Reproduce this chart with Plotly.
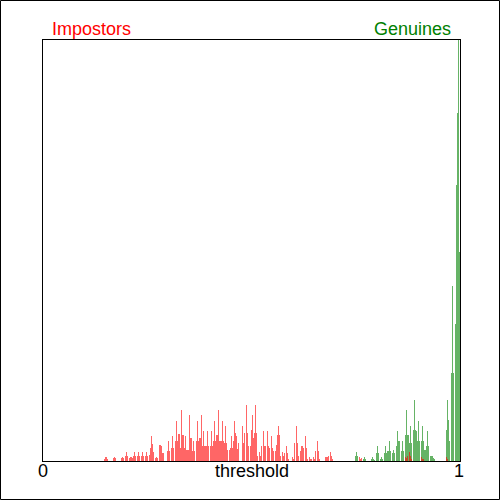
import plotly.graph_objects as go

# Histogram on a fine grid of 417 bins over threshold [0, 1]
N_BINS = 417

# Impostor scores: (bin index, count) for non-empty bins
imp_bins = [61, 62, 63, 64, 70, 71, 72, 78, 79, 80, 82, 83, 84, 86, 87, 88, 89,
            90, 91, 92, 94, 95, 96, 98, 99, 100, 102, 103, 104, 106, 107, 108, 109, 110,
            112, 113, 114, 116, 117, 118, 119, 120, 124, 125, 126, 128, 129, 130,
            132, 133, 134, 135, 136, 137, 138, 139, 140, 141, 142, 143, 144, 145, 146, 147, 148,
            149, 150, 151, 153, 154, 155, 156, 157, 158, 159, 160, 161, 162, 163, 164, 165,
            167, 168, 169, 170, 171, 172, 173, 174, 175, 176, 177, 178, 179, 180, 181,
            182, 183, 184, 186, 187, 188, 189, 190, 191, 192, 193, 194, 195, 199, 200, 201,
            203, 204, 205, 207, 208, 209, 210, 211, 212, 213, 214, 216, 217, 218,
            220, 221, 222, 224, 225, 226, 228, 229, 230, 232, 233, 234, 235, 236, 237,
            239, 240, 241, 243, 244, 245, 249, 250, 251, 253, 254, 255, 257, 258, 259, 260,
            262, 263, 264, 266, 267, 268, 270, 271, 272, 274, 275, 276,
            282, 283, 284, 285, 287, 288, 289, 316, 317, 318, 362, 363, 364,
            366, 367, 368, 378, 379, 380, 403, 404, 405]
imp_counts = [2, 4, 4, 2, 3, 4, 3, 3, 4, 3, 5, 9, 5, 3, 4, 4, 3,
              5, 9, 5, 5, 9, 5, 5, 9, 5, 5, 9, 5, 6, 13, 25, 17, 9,
              3, 4, 3, 16, 16, 15, 8, 8, 10, 20, 10, 13, 25, 13,
              20, 40, 20, 27, 27, 13, 51, 26, 26, 13, 25, 11, 11, 11, 46, 23, 23,
              10, 20, 10, 20, 40, 20, 23, 23, 46, 15, 30, 15, 15, 15, 30, 15,
              15, 30, 15, 20, 40, 20, 26, 26, 51, 20, 20, 20, 40, 20, 18,
              35, 18, 11, 11, 13, 25, 13, 20, 40, 28, 25, 12, 18, 35, 18,
              28, 56, 28, 15, 15, 31, 46, 23, 28, 56, 28, 5, 9, 5,
              15, 30, 15, 15, 30, 15, 13, 25, 13, 10, 10, 16, 26, 35, 26,
              5, 9, 5, 8, 15, 8, 2, 4, 2, 18, 35, 18, 5, 10, 15, 15,
              13, 25, 13, 2, 4, 2, 2, 4, 2, 10, 20, 10,
              2, 4, 4, 4, 5, 9, 5, 2, 4, 2,
              3, 4, 3, 5, 9, 5, 2, 4, 2, 2, 4, 2]

# Genuine scores: (bin index, count) for non-empty bins
gen_bins = [312, 313, 314, 320, 321, 322, 328, 329, 330, 331, 333, 334, 335,
            337, 338, 339, 341, 342, 343, 344, 345, 346, 347, 349, 350, 351,
            353, 354, 355, 356, 358, 359, 360, 362, 363, 364, 365, 366, 367, 368,
            370, 371, 372, 373, 374, 375, 376, 378, 379, 380, 381, 382, 383, 384, 385,
            387, 388, 389, 390, 391, 403, 404, 405, 406, 408, 409, 410,
            412, 413, 414, 415, 416]
gen_counts = [5, 9, 5, 2, 4, 2, 2, 4, 2, 1, 8, 15, 8,
              2, 4, 2, 8, 15, 8, 10, 10, 20, 10, 8, 11, 8,
              15, 30, 20, 20, 10, 20, 10, 26, 51, 26, 26, 18, 35, 18,
              31, 61, 31, 30, 20, 40, 20, 20, 35, 20, 11, 11, 15, 30, 15,
              5, 5, 5, 3, 2, 31, 61, 41, 20, 88, 175, 88,
              137, 275, 347, 420, 209]

bin_w = 1.0 / N_BINS
imp_x = [(b + 0.5) * bin_w for b in imp_bins]
gen_x = [(b + 0.5) * bin_w for b in gen_bins]

fig = go.Figure()
fig.add_trace(go.Bar(x=gen_x, y=gen_counts, width=bin_w,
                     marker=dict(color="rgba(0,128,0,0.6)", line=dict(width=0)),
                     name="Genuines"))
fig.add_trace(go.Bar(x=imp_x, y=imp_counts, width=bin_w,
                     marker=dict(color="rgba(255,0,0,0.6)", line=dict(width=0)),
                     name="Impostors"))

L, R, T, B = 43, 40, 40, 39
PW, PH = 500 - L - R, 500 - T - B

def px_x(p):
    return (p - L) / PW

def px_y(p):
    return (500 - B - p) / PH

font = dict(family="Arial, Liberation Sans, sans-serif", size=18)

fig.update_layout(
    width=500, height=500,
    margin=dict(l=L, r=R, t=T, b=B),
    paper_bgcolor="white", plot_bgcolor="white",
    barmode="overlay", bargap=0, showlegend=False,
    xaxis=dict(range=[0, 1], showgrid=False, zeroline=False, showticklabels=False,
               ticks="", showline=True, mirror=True, linecolor="black", linewidth=1),
    yaxis=dict(range=[0, 420], showgrid=False, zeroline=False, showticklabels=False,
               ticks="", showline=True, mirror=True, linecolor="black", linewidth=1),
    annotations=[
        dict(text="Impostors", xref="paper", yref="paper", x=px_x(50), y=px_y(29),
             xanchor="left", yanchor="middle", showarrow=False,
             font=dict(color="#ff0000", **font)),
        dict(text="Genuines", xref="paper", yref="paper", x=px_x(453), y=px_y(29),
             xanchor="right", yanchor="middle", showarrow=False,
             font=dict(color="#008000", **font)),
        dict(text="0", xref="paper", yref="paper", x=px_x(42.5), y=px_y(471),
             xanchor="center", yanchor="middle", showarrow=False,
             font=dict(color="black", **font)),
        dict(text="threshold", xref="paper", yref="paper", x=0.5, y=px_y(471),
             xanchor="center", yanchor="middle", showarrow=False,
             font=dict(color="black", **font)),
        dict(text="1", xref="paper", yref="paper", x=px_x(459), y=px_y(471),
             xanchor="center", yanchor="middle", showarrow=False,
             font=dict(color="black", **font)),
    ],
    shapes=[
        dict(type="rect", xref="paper", yref="paper",
             x0=px_x(0.5), x1=px_x(499.5), y0=px_y(499.5), y1=px_y(0.5),
             line=dict(color="black", width=1), fillcolor="rgba(0,0,0,0)", layer="above"),
    ],
)

fig.write_html("out.html", config={"displayModeBar": False},
               post_script="document.body.style.margin='0';"
               "document.body.style.overflow='hidden';")
